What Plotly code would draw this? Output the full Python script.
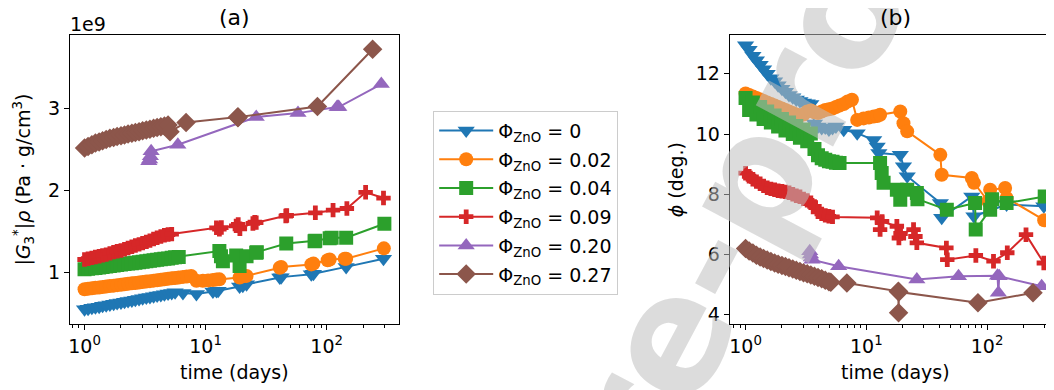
import plotly.graph_objects as go

# ---------------- data ----------------
# time in days; |G3*|rho in units of 1e9 Pa.g/cm3; phi in degrees
t_phi0 = [1.00, 1.07, 1.15, 1.23, 1.32, 1.41, 1.51, 1.62, 1.74, 1.86, 2.00, 2.14, 2.29, 2.46, 2.63,
          2.82, 3.02, 3.24, 3.47, 3.72, 3.98, 4.27, 4.57, 4.90,
          5.25, 5.6, 6.5, 8.4, 11.5, 12.3, 12.7, 19.1, 20.3, 21.8, 41.0, 42.1, 74.7, 77.8, 145.0, 295.0]
G_phi0 = [0.553, 0.56, 0.57, 0.578, 0.585, 0.595, 0.603, 0.61, 0.62, 0.628, 0.636, 0.645, 0.653, 0.66,
          0.67, 0.678, 0.686, 0.695, 0.703, 0.711, 0.72, 0.728, 0.736, 0.745,
          0.752, 0.76, 0.75, 0.74, 0.77, 0.775, 0.78, 0.83, 0.84, 0.857, 0.94, 0.945, 0.98, 0.985, 1.07, 1.17]
P_phi0 = [12.95, 12.8, 12.6, 12.45, 12.3, 12.15, 12.0, 11.85, 11.75, 11.62, 11.5, 11.4, 11.3, 11.22,
          11.15, 11.1, 11.05, 11.02, 11.0, 10.35, 10.25, 10.2, 10.22, 10.15,
          10.2, 10.25, 10.14, 10.03, 9.8, 9.59, 9.37, 9.31, 8.93, 8.6, 7.71, 7.22, 7.93, 7.27, 7.66, 7.6]

t_phi1 = [1.00, 1.07, 1.15, 1.23, 1.32, 1.41, 1.51, 1.62, 1.74, 1.86, 2.00, 2.14, 2.29, 2.46, 2.63,
          2.82, 3.02, 3.24, 3.47, 3.72, 3.98, 4.27, 4.57, 4.90,
          5.25, 5.6, 6.0, 6.5, 7.0, 7.6, 8.4, 9.5, 10.5, 11.5, 12.3, 13.0, 19.1, 20.3, 21.8,
          41.0, 42.1, 74.7, 77.8, 102.0, 106.0, 141.0, 145.0, 297.0]
G_phi1 = [0.797, 0.803, 0.808, 0.814, 0.819, 0.825, 0.830, 0.836, 0.841, 0.847, 0.852, 0.858, 0.863,
          0.869, 0.874, 0.880, 0.885, 0.891, 0.896, 0.902, 0.907, 0.913, 0.918, 0.924,
          0.93, 0.935, 0.94, 0.948, 0.953, 0.959, 0.9, 0.9, 0.905, 0.91, 0.915, 0.918, 0.94, 0.955, 0.96,
          1.06, 1.07, 1.1, 1.11, 1.15, 1.16, 1.17, 1.17, 1.296]
P_phi1 = [11.35, 11.3, 11.25, 11.2, 11.15, 11.1, 11.05, 11.0, 10.95, 10.9, 10.85, 10.8, 10.75, 10.7,
          10.65, 10.62, 10.65, 10.75, 10.78, 10.72, 10.7, 10.75, 10.8, 10.82,
          10.85, 10.9, 10.95, 11.0, 11.08, 11.14, 10.47, 10.52, 10.55, 10.58, 10.6, 10.64, 10.75, 10.36,
          10.09, 9.31, 8.65, 8.54, 8.38, 7.77, 8.15, 8.21, 7.88, 7.14]

t_phi2 = [1.00, 1.07, 1.15, 1.23, 1.32, 1.41, 1.51, 1.62, 1.74, 1.86, 2.00, 2.14, 2.29, 2.46, 2.63,
          2.82, 3.02, 3.24, 3.47, 3.72, 3.98, 4.27, 4.57, 4.90,
          5.25, 5.6, 6.0, 13.0, 13.4, 13.9, 17.9, 19.1, 21.8, 26.2, 26.5, 46.4, 79.5, 80.5, 106.0, 110.0,
          145.0, 300.0]
G_phi2 = [1.04, 1.046, 1.052, 1.057, 1.063, 1.069, 1.075, 1.081, 1.086, 1.092, 1.098, 1.104, 1.11,
          1.115, 1.121, 1.127, 1.133, 1.139, 1.144, 1.15, 1.156, 1.162, 1.168, 1.173,
          1.18, 1.186, 1.19, 1.263, 1.2, 1.14, 1.21, 1.08, 1.2, 1.243, 1.25, 1.356, 1.384, 1.39, 1.42,
          1.426, 1.426, 1.596]
P_phi2 = [11.2, 10.8, 11.05, 10.65, 10.9, 10.5, 10.75, 10.38, 10.62, 10.25, 10.5, 10.12, 10.38, 10.0,
          10.27, 9.88, 10.15, 9.76, 10.02, 9.5, 9.3, 9.2, 9.15, 9.1,
          9.08, 9.05, 9.04, 9.04, 8.71, 8.38, 8.15, 7.82, 8.15, 8.04, 7.84, 7.49, 7.71, 6.83, 7.49, 7.84,
          7.71, 7.93]

t_phi3 = [1.00, 1.07, 1.15, 1.23, 1.32, 1.41, 1.51, 1.62, 1.74, 1.86, 2.00, 2.14, 2.29, 2.46, 2.63,
          2.82, 3.02, 3.24, 3.47, 3.72, 3.98, 4.27, 4.57, 4.90,
          5.25, 12.3, 13.0, 13.5, 17.9, 18.6, 19.2, 24.6, 25.5, 26.2, 46.0, 46.8, 80.7, 113.0, 147.0,
          210.0, 295.0]
G_phi3 = [1.16, 1.17, 1.18, 1.19, 1.2, 1.21, 1.22, 1.235, 1.25, 1.26, 1.27, 1.285, 1.3, 1.315, 1.33,
          1.345, 1.36, 1.375, 1.39, 1.41, 1.425, 1.44, 1.455, 1.465,
          1.47, 1.547, 1.53, 1.55, 1.57, 1.588, 1.535, 1.6, 1.616, 1.61, 1.69, 1.697, 1.73, 1.762, 1.782,
          1.98, 1.91]
P_phi3 = [8.7, 8.6, 8.5, 8.42, 8.35, 8.28, 8.22, 8.18, 8.15, 8.12, 8.1, 8.08, 8.05, 8.0, 7.95, 7.92,
          7.85, 7.8, 7.72, 7.6, 7.42, 7.35, 7.3, 7.27,
          7.25, 7.22, 6.83, 7.1, 6.94, 6.55, 6.7, 6.83, 6.6, 6.39, 6.22, 5.83, 5.97, 5.78, 6.06, 6.66, 5.72]

t_phi4 = [3.40, 3.45, 3.50, 3.55, 5.9, 26.2, 58.0, 122.0, 124.0, 126.0, 283.0]
G_phi4 = [2.36, 2.38, 2.42, 2.48, 2.561, 2.898, 2.946, 3.02, 3.02, 3.02, 3.30]
P_phi4 = [6.11, 6.0, 5.9, 5.83, 5.61, 5.17, 5.28, 5.3, 4.73, 5.28, 4.95]

t_phi5 = [1.00, 1.07, 1.15, 1.23, 1.32, 1.41, 1.51, 1.62, 1.74, 1.86, 2.00, 2.14, 2.29, 2.46, 2.63,
          2.82, 3.02, 3.24, 3.47, 3.72, 3.98, 4.27, 4.57, 4.90,
          5.08, 6.9, 18.4, 18.5, 18.6, 84.0, 240.0]
G_phi5 = [2.52, 2.54, 2.56, 2.58, 2.595, 2.61, 2.625, 2.64, 2.65, 2.66, 2.67, 2.68, 2.69, 2.70, 2.71,
          2.72, 2.73, 2.74, 2.75, 2.76, 2.77, 2.78, 2.79, 2.80,
          2.72, 2.832, 2.898, 2.89, 2.898, 3.027, 3.725]
P_phi5 = [6.2, 6.12, 6.05, 5.98, 5.92, 5.87, 5.82, 5.77, 5.72, 5.68, 5.64, 5.6, 5.56, 5.52, 5.48, 5.44,
          5.4, 5.36, 5.32, 5.28, 5.24, 5.2, 5.15, 5.1,
          5.08, 5.06, 4.78, 4.07, 4.76, 4.40, 4.73]

phi_labels = ["0", "0.02", "0.04", "0.09", "0.20", "0.27"]
times = [t_phi0, t_phi1, t_phi2, t_phi3, t_phi4, t_phi5]
moduli = [G_phi0, G_phi1, G_phi2, G_phi3, G_phi4, G_phi5]
phases = [P_phi0, P_phi1, P_phi2, P_phi3, P_phi4, P_phi5]

x_tick_vals = [1, 10, 100]
x_tick_text = ["10<sup>0</sup>", "10<sup>1</sup>", "10<sup>2</sup>"]
x_minor_vals = [0.8, 0.9, 2, 3, 4, 5, 6, 7, 8, 9, 20, 30, 40, 50, 60, 70, 80, 90, 200, 300]
ya_ticks = [1, 2, 3]
yb_ticks = [4, 6, 8, 10, 12]

# ---------------- styling ----------------
colors = ["#1f77b4", "#ff7f0e", "#2ca02c", "#d62728", "#9467bd", "#8c564b"]
symbols = ["triangle-down", "circle", "square", "cross", "triangle-up", "diamond"]
sizes = [15, 14, 14, 12, 15, 15]
FONT = "DejaVu Sans"
FS = 19
# the page body has an 8px margin: work in screen pixels and shift by it
OFF = 8
W, H = 1054 - OFF, 390 - OFF


def px(X):
    return (X - OFF) / W


def py(Y):
    return (H - (Y - OFF)) / H


fig = go.Figure()
for i in range(6):
    common = dict(mode="lines+markers",
                  line=dict(color=colors[i], width=2),
                  marker=dict(symbol=symbols[i], size=sizes[i], color=colors[i], line=dict(width=0)),
                  legendgroup=str(i),
                  name="Φ<sub>ZnO</sub> = " + phi_labels[i])
    fig.add_trace(go.Scatter(x=times[i], y=moduli[i], xaxis="x", yaxis="y", showlegend=True, **common))
    fig.add_trace(go.Scatter(x=times[i], y=phases[i], xaxis="x2", yaxis="y2", showlegend=False, **common))

ax_common = dict(showline=True, linecolor="black", linewidth=1, ticks="outside", ticklen=5,
                 tickwidth=1, tickcolor="black", showgrid=False, zeroline=False,
                 tickfont=dict(family=FONT, size=FS, color="black"))
xminor = dict(ticks="outside", ticklen=3, tickwidth=1, tickcolor="black", tickvals=x_minor_vals)

y_dom = [py(325), py(35)]
fig.update_layout(
    width=W, height=H,
    margin=dict(l=0, r=0, t=0, b=0),
    paper_bgcolor="white", plot_bgcolor="white",
    font=dict(family=FONT, size=FS, color="black"),
    xaxis=dict(type="log", range=[-0.121, 2.60], domain=[px(68), px(398)], anchor="y",
               mirror=True, tickmode="array", tickvals=x_tick_vals, ticktext=x_tick_text,
               minor=xminor, **ax_common),
    yaxis=dict(range=[0.371, 3.90], domain=y_dom, anchor="x", mirror=True,
               tickmode="array", tickvals=ya_ticks, **ax_common),
    xaxis2=dict(type="log", range=[-0.132, 2.554], domain=[px(729), 1.0], anchor="y2",
                mirror=True, tickmode="array", tickvals=x_tick_vals, ticktext=x_tick_text,
                minor=xminor, **ax_common),
    yaxis2=dict(range=[3.69, 13.29], domain=y_dom, anchor="x2", mirror=False,
                tickmode="array", tickvals=yb_ticks, **ax_common),
    legend=dict(x=px(432), y=py(111), xanchor="left", yanchor="top",
                bgcolor="white", bordercolor="#cccccc", borderwidth=1,
                font=dict(family=FONT, size=FS, color="black"),
                tracegroupgap=1, itemwidth=54),
    showlegend=True,
)

ann = [
    # watermark first so the panel titles stay on top of it
    dict(text="Pre-proof", x=px(750), y=py(184), textangle=-62,
         font=dict(size=160, weight="bold", color="rgba(190,190,190,0.54)")),
    dict(text="(a)", x=px(233), y=py(18), font=dict(size=22)),
    dict(text="(b)", x=px(895), y=py(18), font=dict(size=22)),
    dict(text="1e9", x=px(66), y=py(24), xanchor="left", font=dict(size=FS)),
    dict(text="time (days)", x=px(233), y=py(373), font=dict(size=FS)),
    dict(text="time (days)", x=px(895), y=py(373), font=dict(size=FS)),
    dict(text="|<i>G</i><sub>3</sub><sup>*</sup>|<i>ρ</i> (Pa · g/cm<sup>3</sup>)", x=px(22),
         y=py(180), textangle=-90, font=dict(size=FS)),
    dict(text="<i>ϕ</i> (deg.)", x=px(675), y=py(180), textangle=-90, font=dict(size=FS)),
]
for a in ann:
    a.setdefault("xanchor", "center")
    a.setdefault("yanchor", "middle")
    a.update(xref="paper", yref="paper", showarrow=False)
fig.update_layout(annotations=ann)

fig.write_html("out.html")
